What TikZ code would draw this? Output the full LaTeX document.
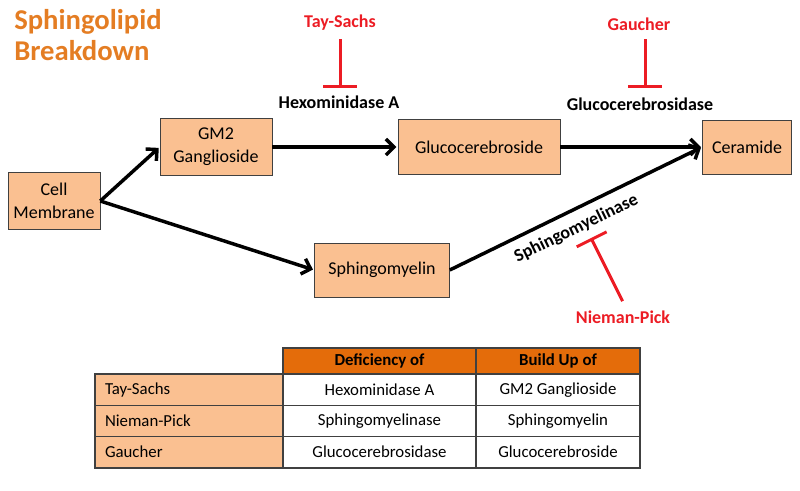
\documentclass[tikz,border=0pt]{standalone}
\usepackage{fontspec}
\setmainfont{Carlito}
\usetikzlibrary{arrows.meta}

\definecolor{boxfill}{RGB}{250,192,145}
\definecolor{headfill}{RGB}{228,108,10}
\definecolor{titleorange}{RGB}{228,125,35}
\definecolor{blockred}{RGB}{236,28,36}
\definecolor{rulegray}{RGB}{64,64,64}

\begin{document}
\begin{tikzpicture}[x=0.75pt, y=-0.75pt, >={Straight Barb[length=6pt,width=12pt]},
    compound/.style={draw=rulegray, fill=boxfill, align=center, inner sep=0pt, font=\fontsize{13.5}{17.5}\selectfont},
    reaction/.style={->, line width=2.6pt, shorten >=1pt},
    enzyme/.style={font=\fontsize{13.5}{15}\selectfont\bfseries},
    disease/.style={text=blockred, font=\fontsize{13.5}{15}\selectfont\bfseries},
    inhibit/.style={-{Bar[width=25pt]}, draw=blockred, line width=2.25pt},
    tablecell/.style={draw=rulegray, line width=0.9pt, inner sep=0pt, minimum height=23.25pt, font=\fontsize{12.6}{14}\selectfont},
    headcell/.style={tablecell, fill=headfill, minimum height=19.5pt, font=\fontsize{12.6}{14}\selectfont\bfseries},
    namecell/.style={tablecell, fill=boxfill, inner xsep=7.5pt, text width=126pt, align=left}]

    \useasboundingbox (0,0) rectangle (800,490);

    % 1. Title in the upper left corner
    \node[anchor=north west, align=left, inner sep=0pt, text=titleorange,
          font=\fontsize{21.5}{23}\selectfont\bfseries] (title) at (14,9) {Sphingolipid\\Breakdown};

    % 2. The compounds of the pathway
    \node[compound, minimum width=69pt, minimum height=42.75pt] (membrane) at (54,201) {Cell\\Membrane};
    \node[compound, minimum width=84pt, minimum height=42.75pt] (gm2) at (216,147) {GM2\\Ganglioside};
    \node[compound, minimum width=121.5pt, minimum height=41.25pt] (glucoside) at (479,147) {Glucocerebroside};
    \node[compound, minimum width=66.75pt, minimum height=40.5pt] (ceramide) at (747,147) {Ceramide};
    \node[compound, minimum width=101.25pt, minimum height=40.5pt] (myelin) at (382,270) {Sphingomyelin};

    % 3. Reactions between them
    \draw[reaction] (membrane.east) -- (gm2.west);
    \draw[reaction] (membrane.east) -- (myelin.west);
    \draw[reaction] (gm2.east) -- (glucoside.west);
    \draw[reaction] (glucoside.east) -- (ceramide.west);
    \draw[reaction] (myelin.east) -- node[enzyme, sloped, below=3pt, pos=0.47] (smase) {Sphingomyelinase} (ceramide.west);

    % 4. Enzymes and the diseases that block them
    \node[enzyme] (hexa) at (339,102) {Hexominidase A};
    \node[enzyme] (gcase) at (640,104) {Glucocerebrosidase};

    \node[disease] (taysachs) at (340,23) {Tay-Sachs};
    \node[disease] (gaucher) at (639,24) {Gaucher};
    \node[disease] (niemann) at (623,317) {Nieman-Pick};

    \coordinate (hexbar) at (340,88);
    \coordinate (gcbar) at (645,88);
    \coordinate (smbar) at (591,238);

    \draw[inhibit, shorten <=3pt] (hexbar |- taysachs.south) -- (hexbar);
    \draw[inhibit, shorten <=3pt] (gcbar |- gaucher.south) -- (gcbar);
    \draw[inhibit, shorten <=4pt] ([xshift=1.5pt]niemann.north) -- (smbar);

    % 5. Summary table
    \node[headcell, minimum width=144.75pt] (deficiency) at (379.5,361) {Deficiency of};
    \node[headcell, minimum width=123pt] (buildup) at (558,361) {Build Up of};

    \foreach \dis/\enz/\sub [count=\i] in {Tay-Sachs/Hexominidase A/GM2 Ganglioside,
            Nieman-Pick/Sphingomyelinase/Sphingomyelin,
            Gaucher/Glucocerebrosidase/Glucocerebroside} {
        \node[namecell] (dis\i) at (189,{359+31*\i}) {\dis};
        \node[tablecell, minimum width=144.75pt] (enz\i) at (379.5,{359+31*\i}) {\enz};
        \node[tablecell, minimum width=123pt] (sub\i) at (558,{359+31*\i}) {\sub};
    }

    \draw[rulegray, line width=1.2pt] (dis1.north west) rectangle (sub3.south east);
    \draw[rulegray, line width=1.2pt] (deficiency.north west) rectangle (buildup.south east);

\end{tikzpicture}
\end{document}
